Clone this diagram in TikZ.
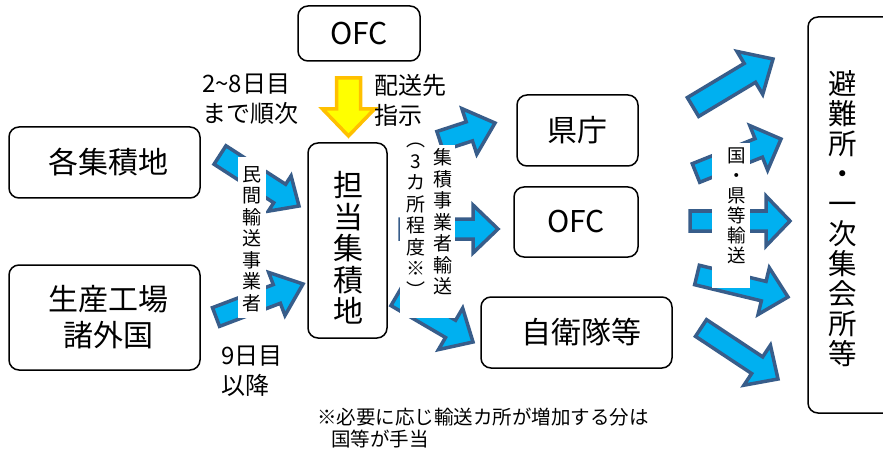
\documentclass[tikz,border=0pt]{standalone}
\usepackage{fontspec}
\setmainfont{Noto Sans CJK JP}
\usetikzlibrary{calc}
\definecolor{arrfill}{HTML}{00B0F0}
\definecolor{arrline}{HTML}{385D8A}
\definecolor{yfill}{HTML}{FFFF00}
\definecolor{yline}{HTML}{FFC000}
% #1 style, #2 tail, #3 tip, #4 shaft half width, #5 head half width, #6 head length
\newcommand\barrow[6][blockarr]{%
  \coordinate (#2-#3-B) at ($(#3)!#6!(#2)$);
  \draw[#1] ($(#2)!#4!90:(#3)$) -- ($(#2-#3-B)!#4!90:(#3)$) -- ($(#2-#3-B)!#5!90:(#3)$) -- (#3)
    -- ($(#2-#3-B)!#5!-90:(#3)$) -- ($(#2-#3-B)!#4!-90:(#3)$) -- ($(#2)!#4!-90:(#3)$) -- cycle;}
\tikzset{
  blockarr/.style={fill=arrfill, draw=arrline, line width=3.5pt, line join=miter},
  yarr/.style={fill=yfill, draw=yline, line width=3.5pt, line join=miter},
  box/.style={draw, rounded corners=10pt, line width=1.5pt, inner sep=0pt, align=center},
  big/.style={font=\fontsize{30}{36}\selectfont},
  mid/.style={font=\fontsize{24}{30}\selectfont, align=left, inner sep=0pt},
  vlab/.style={font=\fontsize{19}{21.5}\selectfont, align=center, inner sep=0pt},
  whitebg/.style={fill=white, draw=none}
}
\begin{document}
\begin{tikzpicture}[x=1pt,y=-1pt]
\useasboundingbox (0,0) rectangle (883,449);
\clip (0,0) rectangle (883,449);
% boxes
\node[box, big, minimum width=122pt, minimum height=55pt] (ofc1) at (359,33.5) {OFC};
\node[box, big, minimum width=191pt, minimum height=71pt] (kaku) at (104.5,162.5) {\hspace{8pt}各集積地};
\node[box, big, minimum width=191pt, minimum height=105pt] (seisan) at (104.5,317.5) {\hspace{8pt}生産工場\\\hspace{8pt}諸外国};
\node[box, minimum width=79pt, minimum height=195pt] (tanto) at (347.5,240.5) {};
\node[font=\fontsize{30}{31.5}\selectfont, align=center, inner sep=0pt] (tantot) at (348,248) {担\\当\\集\\積\\地};
\node[box, big, minimum width=121pt, minimum height=71pt] (ken) at (577.5,130.5) {県庁};
\node[box, big, minimum width=124pt, minimum height=70pt] (ofc2) at (576,222) {OFC};
\node[box, big, minimum width=191pt, minimum height=71pt] (jiei) at (576.5,332.5) {\hspace{10pt}自衛隊等};
\node[box, minimum width=92pt, minimum height=396pt] (hinan) at (854,215) {};
\node[font=\fontsize{28.5}{30}\selectfont, align=center, inner sep=0pt] (hinant) at (843,219) {避\\難\\所\\・\\一\\次\\集\\会\\所\\等};
% arrow coordinates
\coordinate (yt) at (348.5,78);  \coordinate (yh) at (348.5,136);
\coordinate (a1t) at (220,155);  \coordinate (a1h) at (299,206);
\coordinate (a2t) at (216,317);  \coordinate (a2h) at (303,284);
\coordinate (a3t) at (440,141);  \coordinate (a3h) at (495,123);
\coordinate (a4t) at (400,229);  \coordinate (a4h) at (498,229);
\coordinate (a5t) at (396,297);  \coordinate (a5h) at (473,342);
\coordinate (b1t) at (693,107);  \coordinate (b1h) at (773,59);
\coordinate (b2t) at (696,173);  \coordinate (b2h) at (781,139);
\coordinate (b3t) at (690,221);  \coordinate (b3h) at (790,221);
\coordinate (b4t) at (697,275);  \coordinate (b4h) at (788,297);
\coordinate (b5t) at (701,328);  \coordinate (b5h) at (778,379);
\barrow[yarr]{yt}{yh}{12pt}{26pt}{27pt}
\barrow{a1t}{a1h}{11pt}{21pt}{23pt}
\barrow{a2t}{a2h}{10pt}{23pt}{28pt}
\barrow{a3t}{a3h}{10pt}{24pt}{27pt}
\barrow{a4t}{a4h}{10pt}{24pt}{25pt}
\barrow{a5t}{a5h}{10pt}{24pt}{26pt}
\barrow{b1t}{b1h}{11pt}{25pt}{27pt}
\barrow{b2t}{b2h}{10pt}{24pt}{24pt}
\barrow{b3t}{b3h}{10pt}{25pt}{24pt}
\barrow{b4t}{b4h}{10pt}{24pt}{25pt}
\barrow{b5t}{b5h}{10pt}{24pt}{25pt}
% white label backgrounds
\fill[whitebg] (238,157) rectangle (266,318);
\fill[whitebg] (400,145) rectangle (455,318);
\fill[whitebg] (712,143) rectangle (750,288);
% vertical labels
\node[vlab] (lminkan) at (252,239) {民\\間\\輸\\送\\事\\業\\者};
\node[vlab] (lsanka) at (416,220) {︵\\3\\カ\\所\\程\\度\\※\\︶};
\node[vlab] (lshuseki) at (443,222) {集\\積\\事\\業\\者\\輸\\送};
\node[font=\fontsize{18.5}{20}\selectfont, align=center, inner sep=0pt] (lkuni) at (737,206) {国\\・\\県\\等\\輸\\送};
% free texts
\node[mid, anchor=north west] (t28) at (202,74) {2\textasciitilde 8日目\\まで順次};
\node[mid, anchor=north west] (thaiso) at (374,74) {配送先\\指示};
\node[mid, anchor=north west] (t9) at (221,346) {9日目\\以降};
\node[font=\fontsize{19.5}{22}\selectfont, align=left, inner sep=0pt, anchor=north west] (tnote) at (317,408) {※必要に応じ輸送カ所が増加する分は\\\hspace*{14pt}国等が手当};
\end{tikzpicture}
\end{document}
